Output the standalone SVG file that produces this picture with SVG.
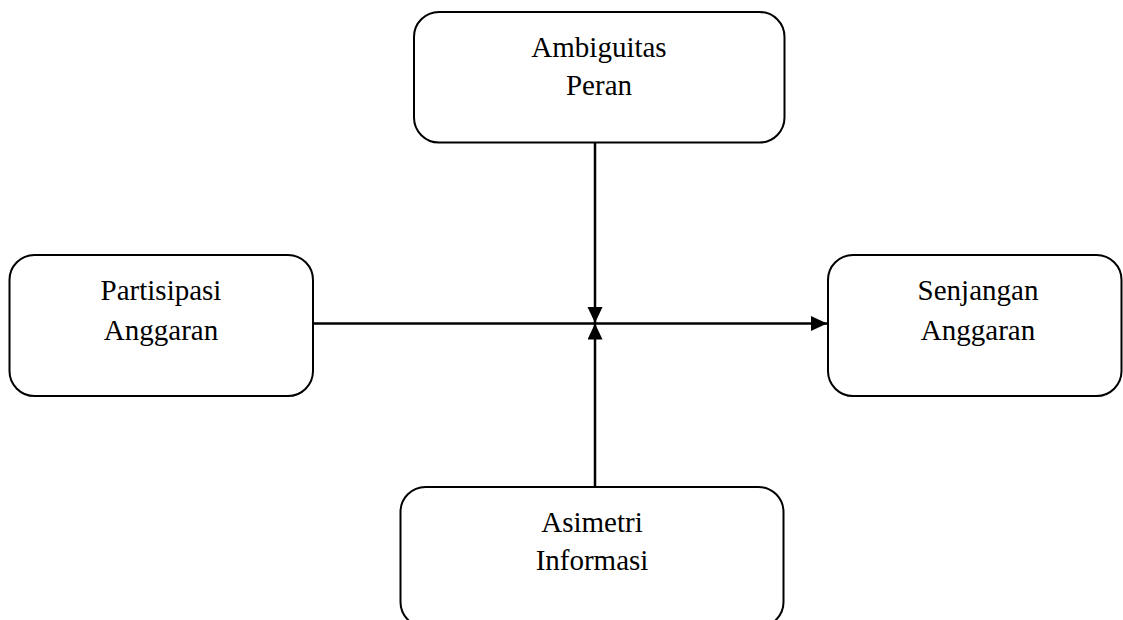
<svg xmlns="http://www.w3.org/2000/svg" width="1123" height="620" viewBox="0 0 1123 620">
<style>
.box{fill:#fff;stroke:#000;stroke-width:2}
.lbl{font-family:"Liberation Serif","Times New Roman",serif;font-size:29px;fill:#000;text-anchor:middle}
.conn{stroke:#000;stroke-width:2.5;fill:none}
</style>
<defs>
<marker id="arr" markerUnits="userSpaceOnUse" markerWidth="16" markerHeight="16" refX="16" refY="7.5" orient="auto">
<path d="M0,0 L16,7.5 L0,15 Z" fill="#000"/>
</marker>
</defs>
<rect width="1123" height="620" fill="#fff"/>
<g id="connectors">
<line class="conn" x1="313" y1="323.5" x2="827" y2="323.5" marker-end="url(#arr)"/>
<line class="conn" x1="595" y1="143" x2="595" y2="323" marker-end="url(#arr)"/>
<line class="conn" x1="595" y1="487" x2="595" y2="323.5" marker-end="url(#arr)"/>
</g>
<g id="node-ambiguitas">
<rect class="box" x="414" y="12" width="370.5" height="130.5" rx="25"/>
<text class="lbl" x="599" y="57">Ambiguitas</text>
<text class="lbl" x="599" y="95">Peran</text>
</g>
<g id="node-partisipasi">
<rect class="box" x="9.5" y="255" width="303.5" height="141" rx="25"/>
<text class="lbl" x="161" y="300">Partisipasi</text>
<text class="lbl" x="161" y="340">Anggaran</text>
</g>
<g id="node-senjangan">
<rect class="box" x="828" y="255" width="293.5" height="141" rx="25"/>
<text class="lbl" x="978" y="300">Senjangan</text>
<text class="lbl" x="978" y="340">Anggaran</text>
</g>
<g id="node-asimetri">
<rect class="box" x="400.5" y="487" width="383" height="140" rx="25"/>
<text class="lbl" x="592" y="532">Asimetri</text>
<text class="lbl" x="592" y="570">Informasi</text>
</g>
</svg>
